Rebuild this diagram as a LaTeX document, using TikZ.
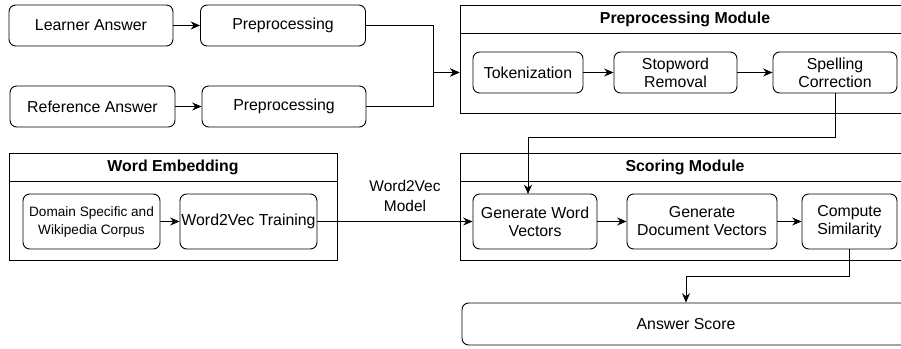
\documentclass[tikz,border=0pt]{standalone}
\usepackage{fontspec}
\setmainfont{Liberation Sans}
\usetikzlibrary{arrows.meta,positioning}

\begin{document}
\begin{tikzpicture}[x=0.75pt,y=-0.75pt,line width=0.7pt,
  box/.style={draw,rounded corners=5pt,inner sep=0pt,align=center,font=\fontsize{11.9}{13.5}\selectfont},
  small/.style={box,font=\fontsize{10.2}{13.5}\selectfont},
  module/.style={draw,inner sep=0pt},
  title/.style={font=\bfseries\fontsize{11.9}{13.5}\selectfont},
  arr/.style={-{Stealth[length=7pt,width=6pt]}}]
  \useasboundingbox (0,0) rectangle (901,349);
  \clip (0,0) rectangle (901,349);

  % inputs
  \node[box,minimum width=123pt,minimum height=30.75pt] (learner) at (91,25.5) {Learner Answer};
  \node[box,minimum width=123.75pt,minimum height=30.75pt] (prep1) at (283,25.5) {Preprocessing};
  \node[box,minimum width=123.75pt,minimum height=30.75pt] (refans) at (92.5,106.5) {Reference Answer};
  \node[box,minimum width=123pt,minimum height=30.75pt] (prep2) at (284,106.5) {Preprocessing};

  % preprocessing module
  \node[module,minimum width=337.5pt,minimum height=81pt] (prepmod) at (685,59) {};
  \draw (prepmod.west |- 0,33) -- (prepmod.east |- 0,33);
  \node[title] at (685,19) {Preprocessing Module};
  \node[box,minimum width=82.5pt,minimum height=30.75pt] (tok) at (528,72.5) {Tokenization};
  \node[box,minimum width=92.25pt,minimum height=30.75pt] (stop) at (675.5,72.5) {Stopword\\Removal};
  \node[box,minimum width=93pt,minimum height=30.75pt] (spell) at (835,72.5) {Spelling\\Correction};

  % word embedding
  \node[module,minimum width=246pt,minimum height=80.25pt] (embed) at (173,206.5) {};
  \draw (embed.west |- 0,181) -- (embed.east |- 0,181);
  \node[title] at (173,167) {Word Embedding};
  \node[small,minimum width=102.75pt,minimum height=41.25pt] (corpus) at (91.5,221.5) {Domain Specific and\\Wikipedia Corpus};
  \node[box,minimum width=102.75pt,minimum height=41.25pt] (w2v) at (248.5,221.5) {Word2Vec Training};

  % scoring module
  \node[module,minimum width=337.5pt,minimum height=80.25pt] (scoremod) at (685,206.5) {};
  \draw (scoremod.west |- 0,181) -- (scoremod.east |- 0,181);
  \node[title] at (685,167) {Scoring Module};
  \node[box,minimum width=93pt,minimum height=41.25pt] (wordvec) at (535,221.5) {Generate Word\\Vectors};
  \node[box,minimum width=112.5pt,minimum height=41.25pt] (docvec) at (702,221.5) {Generate\\Document Vectors};
  \node[box,minimum width=71.25pt,minimum height=41.25pt] (sim) at (849.5,221.5) {Compute\\Similarity};

  \node[box,minimum width=336pt,minimum height=31.5pt] (score) at (686,324) {Answer Score};
  \node[align=center,font=\fontsize{11.6}{15.5}\selectfont] (w2vlabel) at (405,196) {Word2Vec\\Model};

  \coordinate (merge) at (433,72.5);
  \draw[arr] (learner) -- (prep1);
  \draw[arr] (refans) -- (prep2);
  \draw[arr] (prep1.east) -| (merge) -- (prepmod.west |- tok);
  \draw[arr] (prep2.east) -| (merge) -- (prepmod.west |- tok);
  \draw[arr] (tok) -- (stop);
  \draw[arr] (stop) -- (spell);
  \draw[arr] (spell.south) -- ++(0,44.5) -| (528,194);
  \draw[arr] (corpus) -- (w2v);
  \draw[arr] (w2v) -- (wordvec);
  \draw[arr] (wordvec) -- (docvec);
  \draw[arr] (docvec) -- (sim);
  \draw[arr] (sim.south) -- ++(0,27) -| (score.north);
\end{tikzpicture}
\end{document}
